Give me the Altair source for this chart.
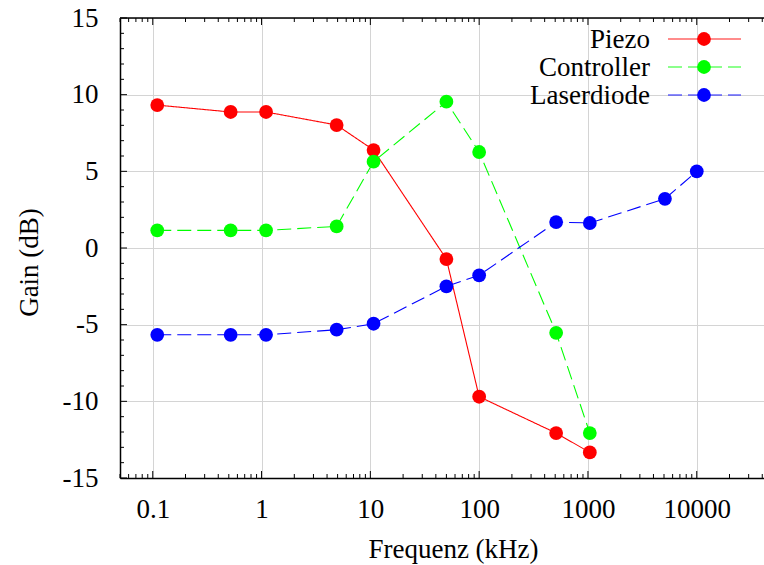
import altair as alt
import pandas as pd

names = ["Piezo", "Controller", "Laserdiode"]
colors = ["#ff0000", "#00ff00", "#0000ff"]
dashes = [[1, 0], [14, 6], [14, 6]]

freq_common = [0.11, 0.52, 1.1, 4.9, 10.7, 50, 100, 510, 1040]
gain_piezo = [9.32, 8.87, 8.87, 8.02, 6.39, -0.72, -9.7, -12.07, -13.33]
gain_controller = [1.15, 1.15, 1.15, 1.41, 5.63, 9.54, 6.26, -5.53, -12.07]
freq_laser = [0.11, 0.52, 1.1, 4.9, 10.7, 50, 100, 510, 1040, 5100, 10000]
gain_laser = [-5.66, -5.66, -5.66, -5.33, -4.94, -2.5, -1.78, 1.69, 1.63, 3.21, 5.0]

x_major = [0.1, 1, 10, 100, 1000, 10000]
y_major = [-15, -10, -5, 0, 5, 10, 15]
x_domain = [0.05, 41500]
y_domain = [-15, 15]

W, H = 644, 460
FONT = "'Liberation Serif', 'Times New Roman', 'DejaVu Serif', serif"
FS = 27

x_minor = [m * 10.0 ** k for k in range(-2, 5) for m in range(2, 10)]
x_minor = [v for v in x_minor if x_domain[0] <= v <= x_domain[1]]
y_minor = [v for v in range(-15, 16) if v % 5 != 0]

xscale = alt.Scale(type="log", domain=x_domain, nice=False)
yscale = alt.Scale(domain=y_domain, nice=False, zero=False)

xaxis = alt.Axis(values=x_major, format="~g", title="Frequenz (kHz)", tickSize=0,
                 domainColor="black", domainWidth=1.5, grid=True, gridColor="#d4d4d4",
                 gridWidth=1, labelFont=FONT, labelFontSize=FS, labelColor="black",
                 labelBaseline="alphabetic", labelPadding=39, labelFlush=False,
                 labelOverlap=False, titleFont=FONT, titleFontSize=FS,
                 titleFontWeight="normal", titleColor="black", titleX=333, titleY=79,
                 titleBaseline="alphabetic", titleAlign="center")
yaxis = alt.Axis(values=y_major, labelExpr="'' + datum.value", title="Gain (dB)",
                 tickSize=0, domainColor="black",
                 domainWidth=1.5, grid=True, gridColor="#d4d4d4", gridWidth=1,
                 labelFont=FONT, labelFontSize=FS, labelColor="black", labelAlign="right",
                 labelBaseline="middle", labelPadding=22, labelFlush=False,
                 labelOverlap=False, titleFont=FONT, titleFontSize=FS,
                 titleFontWeight="normal", titleColor="black", titleAngle=-90,
                 titleX=-83, titleY=244, titleAlign="center", titleBaseline="alphabetic")

layers = []

# inward tick marks
ymaj = pd.DataFrame({"v": y_major})
ymin = pd.DataFrame({"v": y_minor})
xmaj = pd.DataFrame({"v": x_major})
xmin = pd.DataFrame({"v": x_minor})
for df, ln in [(ymaj, 7), (ymin, 4)]:
    layers.append(alt.Chart(df).mark_rule(color="black", strokeWidth=1).encode(
        y=alt.Y("v:Q", scale=yscale, axis=yaxis), x=alt.value(0), x2=alt.value(ln)))
for df, ln in [(xmaj, 7), (xmin, 4)]:
    layers.append(alt.Chart(df).mark_rule(color="black", strokeWidth=1).encode(
        x=alt.X("v:Q", scale=xscale, axis=xaxis), y=alt.value(H), y2=alt.value(H - ln)))
    layers.append(alt.Chart(df).mark_rule(color="black", strokeWidth=1).encode(
        x=alt.X("v:Q", scale=xscale, axis=xaxis), y=alt.value(0), y2=alt.value(ln)))

# top border
layers.append(alt.Chart(pd.DataFrame({"a": [0]})).mark_rule(color="black", strokeWidth=1.5).encode(
    x=alt.value(0), x2=alt.value(W), y=alt.value(0)))

series = [
    (names[0], freq_common, gain_piezo),
    (names[1], freq_common, gain_controller),
    (names[2], freq_laser, gain_laser),
]
for i, (name, f, g) in enumerate(series):
    df = pd.DataFrame({"f": f, "g": g, "i": list(range(len(f)))})
    base = alt.Chart(df).encode(
        x=alt.X("f:Q", scale=xscale, axis=xaxis),
        y=alt.Y("g:Q", scale=yscale, axis=yaxis),
    )
    layers.append(base.mark_line(color=colors[i], strokeWidth=1.1, strokeDash=dashes[i]).encode(order="i:O"))
    layers.append(base.mark_point(filled=True, shape="circle", size=190, color=colors[i], opacity=1))

# legend (gnuplot style: label left of sample)
for i, name in enumerate(names):
    yy = 21 + 28 * i
    ld = pd.DataFrame({"name": [name]})
    layers.append(alt.Chart(ld).mark_text(align="right", baseline="alphabetic", font=FONT,
                                          fontSize=FS, color="black").encode(
        text="name:N", x=alt.value(530), y=alt.value(yy + 9)))
    layers.append(alt.Chart(ld).mark_rule(color=colors[i], strokeWidth=1.6, opacity=0.6,
                                          strokeDash=dashes[i]).encode(
        x=alt.value(548), x2=alt.value(621), y=alt.value(yy)))
    layers.append(alt.Chart(ld).mark_point(filled=True, shape="circle", size=190,
                                           color=colors[i], opacity=1).encode(
        x=alt.value(584), y=alt.value(yy)))

chart = alt.layer(*layers).properties(
    width=W, height=H,
    padding={"left": 120, "top": 18, "right": 0, "bottom": 87},
    autosize=alt.AutoSizeParams(type="none"),
    background="white",
).configure_view(stroke=None)

chart.save("out.html", embed_options={"renderer": "svg", "actions": False})
